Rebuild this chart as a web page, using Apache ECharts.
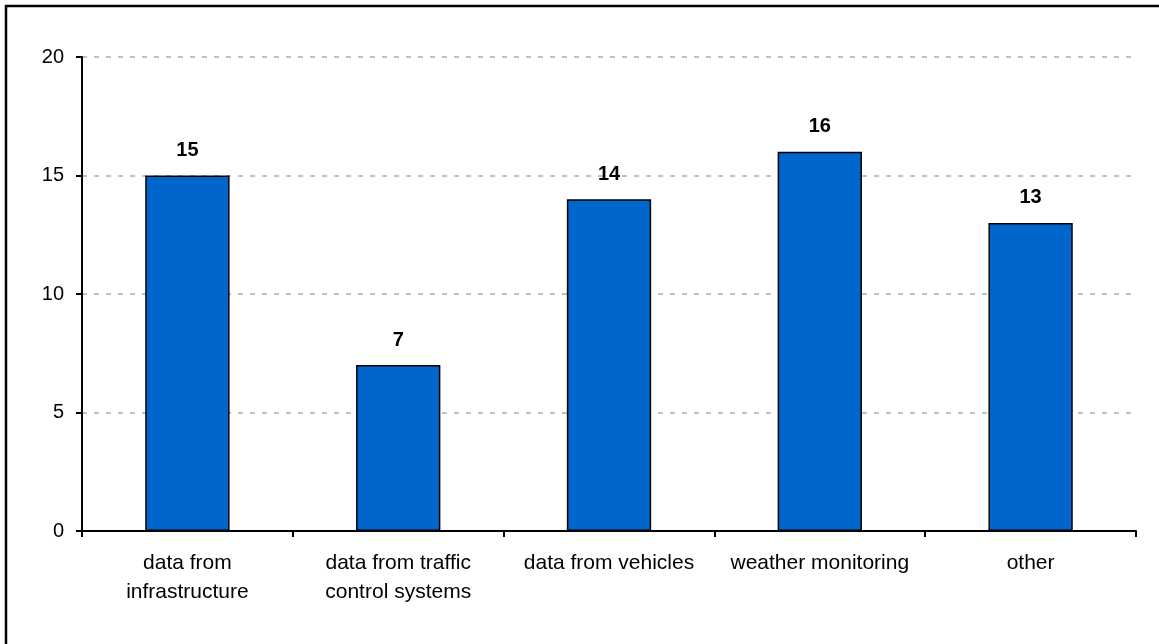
<!DOCTYPE html>
<html>
<head>
<meta charset="utf-8">
<script src="https://cdn.jsdelivr.net/npm/echarts@6/dist/echarts.min.js"></script>
<style>
  html, body { margin: 0; padding: 0; background: #fff; }
  #chart { width: 1159px; height: 644px; }
</style>
</head>
<body>
<div id="chart"></div>
<script>
// Data sources and the number of responses for each
const categories = [
  'data from\ninfrastructure',
  'data from traffic\ncontrol systems',
  'data from vehicles',
  'weather monitoring',
  'other'
];
const counts = [15, 7, 14, 16, 13];
const yTicks = [0, 5, 10, 15, 20];

const font = '"Liberation Sans", Arial, sans-serif';
const chart = echarts.init(document.getElementById('chart'), null, { renderer: 'canvas' });

chart.setOption({
  animation: false,
  backgroundColor: '#ffffff',
  graphic: [{
    type: 'rect',
    shape: { x: 6, y: 6, width: 1300, height: 800 },
    style: { fill: 'none', stroke: '#000', lineWidth: 2.5 },
    silent: true
  }],
  grid: { left: 82, right: 23, top: 57, bottom: 113, containLabel: false },
  xAxis: {
    type: 'category',
    data: categories,
    boundaryGap: true,
    axisLine: { lineStyle: { color: '#000', width: 2 } },
    axisTick: { show: true, length: 6, lineStyle: { color: '#000', width: 2 } },
    axisLabel: {
      color: '#000', fontFamily: font, fontSize: 21, lineHeight: 29,
      margin: 18, interval: 0
    },
    splitLine: { show: false }
  },
  yAxis: {
    type: 'value',
    min: yTicks[0],
    max: yTicks[yTicks.length - 1],
    interval: yTicks[1] - yTicks[0],
    axisLine: { show: true, lineStyle: { color: '#000', width: 2 } },
    axisTick: { show: true, length: 6, lineStyle: { color: '#000', width: 2 } },
    axisLabel: { color: '#000', fontFamily: font, fontSize: 20, margin: 18 },
    splitLine: {
      show: true,
      lineStyle: { color: '#C0C0C0', width: 2, type: [5, 7] }
    }
  },
  series: [{
    type: 'bar',
    data: counts,
    barWidth: '40%',
    itemStyle: { color: '#0066CC', borderColor: '#000', borderWidth: 1.5 },
    label: {
      show: true, position: 'top', distance: 15,
      color: '#000', fontFamily: font, fontSize: 20, fontWeight: 'bold'
    }
  }]
});
</script>
</body>
</html>
